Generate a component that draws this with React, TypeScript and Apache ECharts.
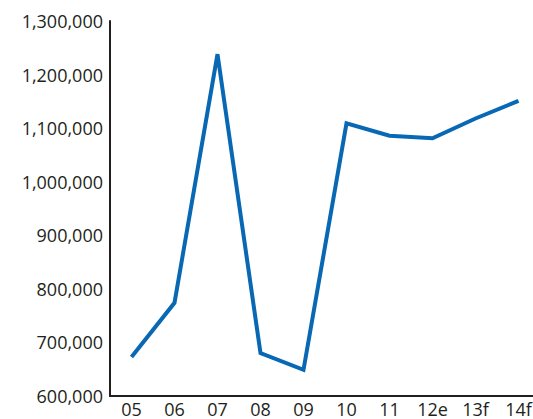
import React, { useEffect, useRef } from "react";
import * as echarts from "echarts";

const years = ["05", "06", "07", "08", "09", "10", "11", "12e", "13f", "14f"];
const values = [673000, 774000, 1238000, 680000, 649000, 1109000, 1086000, 1081000, 1118000, 1151000];
const yMin = 600000;
const yMax = 1300000;
const yStep = 100000;

const FONT = "'Open Sans', 'Noto Sans', sans-serif";
const INK = "#231f20";

export default function App() {
  const ref = useRef<HTMLDivElement>(null);

  useEffect(() => {
    if (!ref.current) return;
    const chart = echarts.init(ref.current, undefined, { renderer: "svg" });
    chart.setOption({
      animation: false,
      grid: {
        left: 110,
        top: 21,
        width: 430,
        bottom: 23,
        containLabel: false,
        outerBoundsMode: "none",
      },
      xAxis: {
        type: "category",
        data: years,
        boundaryGap: true,
        axisLine: { show: true, lineStyle: { color: INK, width: 2 } },
        axisTick: { show: false },
        axisLabel: {
          color: INK,
          fontFamily: FONT,
          fontSize: 18,
          lineHeight: 17,
          margin: 4,
          interval: 0,
        },
        splitLine: { show: false },
      },
      yAxis: {
        type: "value",
        min: yMin,
        max: yMax,
        interval: yStep,
        axisLine: { show: true, lineStyle: { color: INK, width: 2 } },
        axisTick: { show: false },
        splitLine: { show: false },
        axisLabel: {
          color: INK,
          fontFamily: FONT,
          fontSize: 18,
          margin: 7,
          formatter: (v: number) => v.toLocaleString("en-US"),
        },
      },
      series: [
        {
          type: "line",
          data: values,
          showSymbol: false,
          smooth: false,
          lineStyle: { color: "#0868b3", width: 4, join: "miter" },
        },
      ],
    });
    return () => chart.dispose();
  }, []);

  return (
    <div
      ref={ref}
      style={{ position: "fixed", left: 0, top: 0, width: 533, height: 419, background: "#fff" }}
    />
  );
}
